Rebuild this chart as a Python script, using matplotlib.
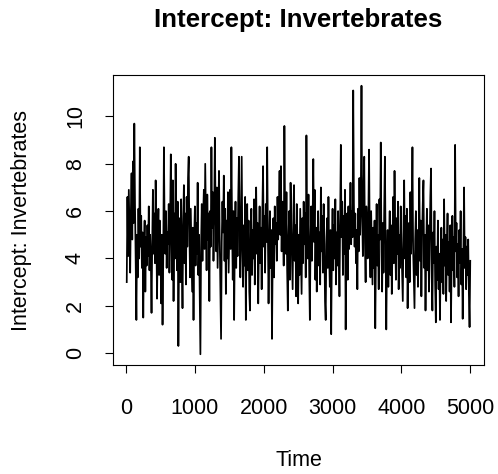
import numpy as np
import matplotlib
matplotlib.use("Agg")
import matplotlib.pyplot as plt

title = "Intercept: Invertebrates"
x_label = "Time"
y_label = "Intercept: Invertebrates"
x_ticks = [0, 1000, 2000, 3000, 4000, 5000]
y_ticks = [0, 2, 4, 6, 8, 10]
time_step = 10

trace_values = [
    3.0, 6.6, 4.1, 6.9, 5.2, 3.4, 6.0, 7.6, 4.8, 8.1, 5.5, 9.7, 6.3, 3.8, 1.4, 5.0, 3.2, 6.1, 4.0, 8.7,
    4.5, 5.8, 3.6, 5.1, 1.5, 4.4, 5.6, 2.6, 4.9, 3.7, 5.4, 4.1, 6.2, 3.5, 5.0, 3.9, 1.7, 4.6, 6.9, 4.2,
    5.9, 3.8, 7.3, 5.2, 2.3, 4.7, 6.1, 3.3, 5.6, 4.4,
    2.1, 5.0, 1.2, 3.9, 8.7, 5.3, 4.2, 6.0, 3.6, 5.1, 4.6, 6.3, 3.4, 5.5, 8.4, 4.8, 3.1, 7.3, 2.2, 5.9,
    4.0, 8.0, 5.2, 3.5, 6.4, 0.3, 4.3, 5.7, 3.0, 6.5, 4.1, 1.9, 5.4, 7.1, 3.8, 5.9, 2.9, 6.6, 4.5, 7.4,
    8.3, 5.0, 3.2, 6.1, 4.4, 2.6, 5.3, 1.4, 4.9, 6.2,
    3.7, 5.5, 4.2, 7.2, 3.3, 5.0, 2.4, -0.05, 4.6, 6.3, 3.9, 5.8, 6.9, 4.4, 8.0, 5.6, 3.5, 6.7, 4.8, 5.9,
    2.2, 6.0, 4.5, 8.7, 5.3, 6.8, 3.9, 5.7, 9.1, 6.2, 4.3, 7.0, 3.6, 5.8, 7.7, 4.9, 2.8, 0.6, 4.7, 6.4,
    5.1, 7.5, 3.9, 6.1, 2.5, 5.6, 4.0, 6.8, 3.4, 5.2,
    6.9, 4.4, 8.7, 5.5, 3.1, 6.0, 1.4, 4.8, 6.4, 3.6, 5.7, 4.1, 6.6, 8.3, 5.0, 3.2, 5.9, 8.3, 4.3, 2.8,
    5.4, 3.7, 6.6, 1.4, 4.9, 6.3, 3.5, 5.6, 2.6, 1.8, 4.7, 6.1, 3.3, 5.2, 4.0, 6.5, 2.9, 5.8, 7.0, 4.2,
    5.5, 2.1, 4.6, 6.2, 3.8, 5.3, 2.7, 6.0, 7.9, 4.5,
    5.8, 3.4, 6.3, 4.7, 8.7, 5.1, 2.1, 4.4, 6.0, 3.6, 5.2, 0.6, 4.1, 5.7, 3.2, 6.2, 4.6, 5.5, 3.9, 6.6,
    4.8, 6.1, 7.7, 5.0, 7.9, 4.3, 6.4, 5.6, 3.7, 9.6, 5.9, 4.2, 6.8, 3.5, 1.8, 4.9, 6.0, 3.1, 7.2, 5.3,
    4.0, 2.7, 5.8, 7.1, 3.9, 5.4, 2.4, 6.3, 4.5, 2.1,
    5.0, 3.3, 6.1, 4.4, 2.5, 5.7, 3.8, 6.4, 4.6, 5.9, 3.2, 9.2, 5.4, 4.0, 6.7, 3.5, 1.4, 4.8, 6.2, 3.9,
    5.6, 8.2, 4.7, 6.9, 3.1, 5.3, 2.6, 4.5, 6.0, 3.7, 5.1, 2.9, 7.0, 4.3, 5.8, 3.4, 6.3, 4.9, 2.2, 1.4,
    4.6, 5.7, 3.6, 6.6, 4.1, 2.8, 5.2, 0.8, 4.4, 6.1,
    3.5, 5.4, 4.0, 6.5, 2.9, 5.1, 3.7, 6.0, 4.5, 2.4, 5.6, 8.8, 4.9, 6.4, 3.3, 5.8, 4.2, 6.9, 1.0, 4.7,
    5.9, 3.1, 6.2, 4.4, 5.5, 7.2, 4.6, 6.0, 4.9, 11.1, 6.3, 4.5, 5.9, 3.8, 5.2, 2.7, 6.1, 4.3, 7.4, 5.0,
    6.6, 11.3, 5.8, 4.1, 6.9, 8.3, 4.7, 3.0, 6.2, 5.4,
    4.0, 5.9, 8.6, 4.6, 3.2, 6.0, 4.4, 2.9, 5.3, 3.6, 5.6, 1.05, 4.2, 6.3, 3.7, 5.0, 2.7, 6.5, 4.8, 8.9,
    4.3, 2.6, 5.5, 3.4, 6.1, 8.3, 4.5, 1.0, 3.9, 5.2, 2.8, 4.7, 6.0, 3.3, 5.4, 2.5, 4.4, 6.6, 3.8, 7.7,
    4.9, 3.1, 5.7, 4.2, 6.4, 2.7, 5.0, 3.6, 6.2, 4.6,
    3.4, 2.2, 5.3, 7.3, 4.0, 5.8, 3.2, 6.1, 1.9, 4.6, 5.5, 3.0, 6.8, 4.2, 5.6, 8.7, 4.4, 3.1, 1.9, 4.8,
    6.0, 3.3, 5.2, 2.8, 4.6, 7.4, 3.9, 5.6, 2.4, 4.9, 6.3, 7.3, 3.6, 5.0, 1.8, 4.4, 6.1, 3.5, 5.4, 2.6,
    4.7, 6.6, 7.8, 3.2, 1.8, 5.1, 3.8, 6.0, 2.9, 1.3,
    4.5, 3.1, 5.6, 2.7, 4.2, 1.4, 3.9, 5.3, 3.0, 4.8, 2.5, 6.5, 3.7, 5.0, 2.2, 4.4, 5.9, 3.3, 4.7, 2.6,
    5.4, 1.3, 4.0, 5.8, 3.5, 4.9, 2.8, 8.8, 4.3, 5.5, 3.2, 4.6, 2.4, 5.2, 3.8, 6.0, 2.9, 4.4, 1.45, 4.1,
    7.0, 3.6, 4.9, 2.7, 4.5, 3.3, 4.8, 2.5, 1.1, 3.9,
]

time = np.arange(1, len(trace_values) + 1) * time_step

plt.rcParams["font.family"] = ["Liberation Sans", "DejaVu Sans"]

fig = plt.figure(figsize=(4.98, 4.74), dpi=100)
ax = fig.add_axes([113 / 498, 1 - 365 / 474, (484 - 113) / 498, (365 - 75) / 474])

ax.plot(time, trace_values, color="black", linewidth=1.25)
ax.margins(x=0.04, y=0.04)

ax.set_xticks(x_ticks)
ax.set_yticks(y_ticks)
ax.tick_params(axis="both", direction="out", length=5.5, width=0.8, labelsize=15.5, color="black")
ax.tick_params(axis="x", pad=18)
ax.tick_params(axis="y", pad=14)
for lab in ax.get_yticklabels():
    lab.set_rotation(90)
    lab.set_va("center")
for s in ax.spines.values():
    s.set_linewidth(0.8)

ax.set_xlabel(x_label, fontsize=15.5)
ax.set_ylabel(y_label, fontsize=15.5)
ax.xaxis.set_label_coords(0.5, (365 - 460) / 290)
ax.xaxis.label.set_va("center")
ax.yaxis.set_label_coords((22 - 113) / 371, 0.5)
ax.yaxis.label.set_va("center")

ax.text(0.5, (365 - 20) / 290, title, transform=ax.transAxes, ha="center", va="center",
        fontsize=18.6, fontweight="bold")

fig.savefig("out.png", dpi=100)
